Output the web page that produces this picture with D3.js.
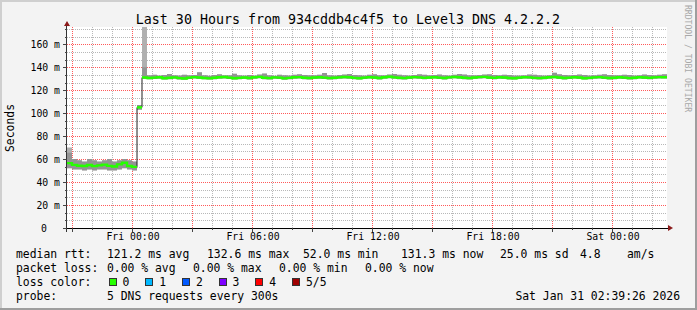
<!DOCTYPE html>
<html>
<head>
<meta charset="utf-8">
<script src="https://cdn.jsdelivr.net/npm/d3@7"></script>
<style>
body{margin:0;background:#f3f3f3;}
svg{display:block;font-family:"DejaVu Sans Mono",monospace;}
</style>
</head>
<body>
<div id="chart"></div>
<script>
// data, one point every 15 minutes starting Thu 20:45
var startTime = new Date(2026, 0, 29, 20, 45);
var stepMinutes = 15;
var spanHours = 30;

var medianRtt = [
  56.5, 55.0, 54.2, 54.0, 54.8, 53.9, 54.5, 55.2, 54.1, 53.6, 55.4, 56.8, 54.0, 53.2,
  105.0,
  131.0, 130.6, 130.9, 131.3, 130.4, 130.8, 131.1, 130.5, 130.2, 130.9,
  131.4, 131.0, 130.6, 130.3, 130.8, 131.2, 131.5, 130.9, 130.4, 130.7,
  131.0, 130.6, 131.3, 131.6, 130.8, 130.5, 131.1, 130.9, 130.3, 130.7,
  131.2, 131.4, 130.8, 130.6, 131.0, 131.3, 130.9, 130.5, 130.8, 131.1,
  131.5, 131.2, 130.7, 130.4, 130.9, 131.3, 131.0, 130.6, 131.2, 131.7,
  131.1, 130.8, 130.5, 131.0, 131.4, 131.1, 130.7, 131.0, 131.3, 130.9,
  130.6, 131.1, 131.5, 131.2, 130.8, 130.5, 131.0, 131.4, 131.6, 131.0,
  130.7, 131.2, 131.0, 130.6, 130.4, 130.9, 131.3, 131.1, 130.7, 130.5,
  130.8, 131.2, 131.5, 131.0, 130.6, 130.9, 131.3, 131.0, 130.4, 130.7,
  131.1, 131.4, 130.9, 130.6, 130.8, 131.2, 130.9, 130.5, 130.8, 131.3,
  131.0, 130.7, 131.1, 131.4, 131.3
];

var smokeLo = [
  52, 51, 51, 50, 51, 50, 51, 51, 50, 50, 51, 52, 51, 50,
  103,
  129.8, 129.5, 129.7, 130.0, 129.3, 129.6, 129.9, 129.4, 129.1, 129.7,
  130.1, 129.8, 129.5, 129.2, 129.6, 130.0, 130.2, 129.7, 129.3, 129.5,
  129.8, 129.4, 130.0, 130.3, 129.6, 129.3, 129.9, 129.7, 129.1, 129.5,
  129.9, 130.1, 129.6, 129.4, 129.8, 130.0, 129.7, 129.3, 129.6, 129.9,
  130.2, 130.0, 129.5, 129.2, 129.7, 130.1, 129.8, 129.4, 130.0, 130.4,
  129.9, 129.6, 129.3, 129.8, 130.2, 129.9, 129.5, 129.8, 130.1, 129.7,
  129.4, 129.9, 130.3, 130.0, 129.6, 129.3, 129.8, 130.2, 130.4, 129.8,
  129.5, 130.0, 129.8, 129.4, 129.2, 129.7, 130.1, 129.9, 129.5, 129.3,
  129.6, 130.0, 130.3, 129.8, 129.4, 129.7, 130.1, 129.8, 129.2, 129.5,
  129.9, 130.2, 129.7, 129.4, 129.6, 130.0, 129.7, 129.3, 129.6, 130.1,
  129.8, 129.5, 129.9, 130.2, 130.1
];

var smokeHi = [
  70, 60, 59, 58, 60, 59, 58, 59, 60, 58, 59, 60, 59, 58,
  107,
  175,
  133.0, 133.5, 132.8, 133.2, 134.0, 133.1, 132.7, 133.4, 132.9, 133.3,
  135.5, 133.0, 132.6, 133.2, 133.8, 132.9, 133.1, 134.2, 133.0, 132.7,
  133.3, 132.8, 133.6, 134.5, 133.0, 132.6, 133.4, 133.1, 132.8, 133.5,
  133.9, 133.2, 132.9, 133.0, 133.4, 135.0, 133.1, 132.7, 133.3, 133.6,
  134.0, 133.2, 132.9, 132.8, 133.5, 133.8, 133.1, 132.9, 133.7, 134.1,
  133.4, 133.0, 132.8, 133.3, 133.9, 133.5, 132.9, 133.2, 133.6, 133.0,
  132.8, 133.4, 134.0, 133.6, 133.1, 132.9, 133.2, 133.7, 133.9, 133.3,
  133.0, 133.5, 133.2, 132.8, 132.7, 133.1, 133.6, 133.4, 133.0, 132.8,
  133.1, 135.2, 133.8, 133.3, 132.9, 133.2, 133.6, 133.3, 132.7, 133.0,
  133.4, 133.8, 133.2, 132.9, 133.1, 133.5, 133.2, 132.8, 133.1, 133.6,
  133.3, 133.0, 133.4, 133.9
];

var yTicks = [0, 20, 40, 60, 80, 100, 120, 140, 160];
var yMax = 175;

var title = "Last 30 Hours from 934cddb4c4f5 to Level3 DNS 4.2.2.2";
var yLabel = "Seconds";
var rttStats = ["121.2 ms avg", "132.6 ms max", "52.0 ms min", "131.3 ms now", "25.0 ms sd", "4.8", "am/s"];
var lossStats = ["0.00 % avg", "0.00 % max", "0.00 % min", "0.00 % now"];
var lossLabels = ["0", "1", "2", "3", "4", "5/5"];
var lossColors = ["#26ff00", "#00b8ff", "#0059ff", "#7e00ff", "#ff0000", "#a00000"];
var probeText = "5 DNS requests every 300s";
var stampText = "Sat Jan 31 02:39:26 2026";

function init(){
  var W = 697, H = 310;
  var left = 67, right = 667, top = 27, bottom = 228;

  var dataset = medianRtt.map(function(m, i){
    return {t: d3.timeMinute.offset(startTime, i * stepMinutes), med: m, lo: smokeLo[i], hi: smokeHi[i]};
  });
  var endTime = d3.timeHour.offset(startTime, spanHours);
  // close the last step at the right edge
  var last = dataset[dataset.length - 1];
  var stepped = dataset.concat([{t: endTime, med: last.med, lo: last.lo, hi: last.hi}]);

  var xScale = d3.scaleTime().domain([startTime, endTime]).range([left, right]);
  var yScale = d3.scaleLinear().domain([0, yMax]).range([bottom, top]);

  var svg = d3.select("#chart").append("svg")
    .attr("width", W).attr("height", H);

  svg.append("rect").attr("width", W).attr("height", H).attr("fill", "#f3f3f3");
  // rrdtool style shaded frame
  svg.append("path").attr("d", "M0,0H697V2H2V310H0Z").attr("fill", "#cfcfcf");
  svg.append("path").attr("d", "M697,0V310H0V308H695V0Z").attr("fill", "#9e9e9e");

  svg.append("rect")
    .attr("x", left).attr("y", top)
    .attr("width", right - left).attr("height", bottom - top)
    .attr("fill", "#ffffff");

  var grid = svg.append("g");

  var minorY = d3.range(0, yMax, 20 / 3);
  grid.selectAll(".ymin").data(minorY.filter(function(d, i){ return i % 3 !== 0; })).enter().append("line")
    .attr("x1", left).attr("x2", right)
    .attr("y1", function(d){ return Math.round(yScale(d)) + 0.5; })
    .attr("y2", function(d){ return Math.round(yScale(d)) + 0.5; })
    .attr("stroke", "#b8b8b8").attr("stroke-dasharray", "1,1");

  var hours = d3.timeHour.every(1).range(startTime, endTime);
  grid.selectAll(".xmin").data(hours.filter(function(d){ return d.getHours() % 3 !== 0; })).enter().append("line")
    .attr("x1", function(d){ return Math.round(xScale(d)) + 0.5; })
    .attr("x2", function(d){ return Math.round(xScale(d)) + 0.5; })
    .attr("y1", top).attr("y2", bottom)
    .attr("stroke", "#b8b8b8").attr("stroke-dasharray", "1,1");

  grid.selectAll(".ymaj").data(yTicks).enter().append("line")
    .attr("x1", left).attr("x2", right)
    .attr("y1", function(d){ return Math.round(yScale(d)) + 0.5; })
    .attr("y2", function(d){ return Math.round(yScale(d)) + 0.5; })
    .attr("stroke", "#ff5a5a").attr("stroke-dasharray", "1,1");

  var majors = d3.timeHour.every(3).range(startTime, endTime);
  grid.selectAll(".xmaj").data(majors).enter().append("line")
    .attr("x1", function(d){ return Math.round(xScale(d)) + 0.5; })
    .attr("x2", function(d){ return Math.round(xScale(d)) + 0.5; })
    .attr("y1", top).attr("y2", bottom)
    .attr("stroke", "#ff5a5a").attr("stroke-dasharray", "1,1");

  // smoke
  var smoke = d3.area()
    .curve(d3.curveStepAfter)
    .x(function(d){ return xScale(d.t); })
    .y0(function(d){ return yScale(d.lo); })
    .y1(function(d){ return yScale(d.hi); });
  svg.append("path").datum(stepped).attr("d", smoke).attr("fill", "#b0b0b0");

  var darkSmoke = d3.area()
    .curve(d3.curveStepAfter)
    .x(function(d){ return xScale(d.t); })
    .y0(function(d){ return yScale(d.lo); })
    .y1(function(d){ return yScale(Math.min(d.hi, d.med + 9)); });
  svg.append("path").datum(stepped).attr("d", darkSmoke).attr("fill", "#606060").attr("opacity", 0.35);

  // median: thin dark line, then loss coloured line broken at big jumps
  var medLine = d3.line()
    .curve(d3.curveStepAfter)
    .x(function(d){ return xScale(d.t); })
    .y(function(d){ return yScale(d.med); });
  svg.append("path").datum(stepped).attr("d", medLine)
    .attr("fill", "none").attr("stroke", "#202020").attr("stroke-width", 1);

  var segs = [], cur = [];
  stepped.forEach(function(d, i){
    if (i > 0 && Math.abs(d.med - stepped[i-1].med) > 15) {
      cur.push({t: d.t, med: stepped[i-1].med});
      segs.push(cur); cur = [];
    }
    cur.push(d);
  });
  segs.push(cur);
  svg.selectAll(".loss0").data(segs).enter().append("path")
    .attr("d", medLine)
    .attr("fill", "none").attr("stroke", lossColors[0]).attr("stroke-width", 2.4);

  // axes
  var axis = svg.append("g").attr("shape-rendering", "crispEdges");
  axis.append("line").attr("x1", 63).attr("x2", 669).attr("y1", bottom + 0.5).attr("y2", bottom + 0.5)
    .attr("stroke", "#000");
  axis.append("line").attr("x1", left - 0.5).attr("x2", left - 0.5).attr("y1", 232).attr("y2", 24)
    .attr("stroke", "#333");
  axis.selectAll(".yt").data(minorY).enter().append("line")
    .attr("x1", function(d, i){ return i % 3 === 0 ? left - 4 : left - 2; })
    .attr("x2", left)
    .attr("y1", function(d){ return Math.round(yScale(d)) + 0.5; })
    .attr("y2", function(d){ return Math.round(yScale(d)) + 0.5; })
    .attr("stroke", "#444");
  axis.selectAll(".xt").data(hours).enter().append("line")
    .attr("x1", function(d){ return Math.round(xScale(d)) + 0.5; })
    .attr("x2", function(d){ return Math.round(xScale(d)) + 0.5; })
    .attr("y1", bottom).attr("y2", function(d){ return d.getHours() % 3 === 0 ? bottom + 4 : bottom + 2; })
    .attr("stroke", "#444");

  svg.append("path").attr("d", "M64,26L70,26L67,21Z").attr("fill", "#8b1a1a");
  svg.append("path").attr("d", "M668,225L668,231L673,228Z").attr("fill", "#8b1a1a");

  // tick labels
  svg.selectAll(".ylab").data(yTicks).enter().append("text")
    .attr("x", function(d){ return d === 0 ? 47 : 60; })
    .attr("y", function(d){ return yScale(d) + 3.5; })
    .attr("text-anchor", "end")
    .attr("font-size", "9.8px")
    .text(function(d){ return d === 0 ? "0" : d + " m"; });

  var labelTimes = d3.timeHour.every(6).range(startTime, endTime);
  var fmt = d3.timeFormat("%a %H:%M");
  svg.selectAll(".xlab").data(labelTimes).enter().append("text")
    .attr("x", function(d){ return xScale(d) + 1; })
    .attr("y", 240)
    .attr("text-anchor", "middle")
    .attr("font-size", "9.8px")
    .text(fmt);

  svg.append("text").attr("x", 348).attr("y", 24).attr("text-anchor", "middle")
    .attr("font-size", "13.3px").text(title);

  svg.append("text").attr("transform", "translate(14,128) rotate(-90)")
    .attr("text-anchor", "middle").attr("font-size", "11.4px").text(yLabel);

  svg.append("text").attr("transform", "translate(685,5) rotate(90)")
    .attr("font-size", "8.1px").attr("fill", "#a8a8a8").text("RRDTOOL / TOBI OETIKER");

  // legend
  var lg = svg.append("g").attr("font-size", "11.4px");
  lg.append("text").attr("x", 16).attr("y", 258).text("median rtt:");
  var rttX = [107, 207, 303, 401, 500, 580, 627];
  rttStats.forEach(function(s, i){
    lg.append("text").attr("x", rttX[i]).attr("y", 258).text(s);
  });
  lg.append("text").attr("x", 16).attr("y", 272).text("packet loss:");
  var lossX = [107, 193, 279, 365];
  lossStats.forEach(function(s, i){
    lg.append("text").attr("x", lossX[i]).attr("y", 272).text(s);
  });
  lg.append("text").attr("x", 16).attr("y", 286).text("loss color:");
  lossLabels.forEach(function(s, i){
    var bx = 108.5 + i * 36.7;
    lg.append("rect").attr("x", Math.round(bx) + 0.5).attr("y", 278.5).attr("width", 7).attr("height", 7)
      .attr("fill", lossColors[i]).attr("stroke", "#333").attr("stroke-width", 1);
    lg.append("text").attr("x", bx + 14).attr("y", 286).text(s);
  });
  lg.append("text").attr("x", 16).attr("y", 300).text("probe:");
  lg.append("text").attr("x", 107).attr("y", 300).text(probeText);
  lg.append("text").attr("x", 680).attr("y", 300).attr("text-anchor", "end").text(stampText);
}
window.onload = init;
</script>
</body>
</html>
